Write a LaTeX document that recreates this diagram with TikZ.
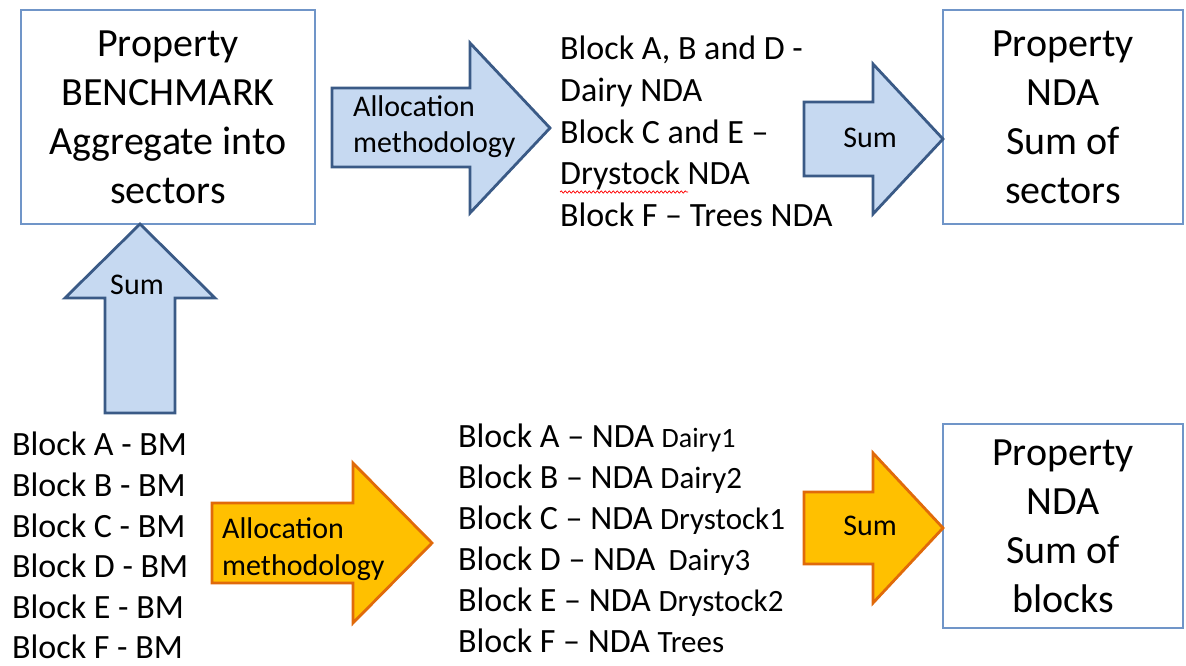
\documentclass[tikz,border=0pt]{standalone}
\usepackage{fontspec}
\setmainfont{Carlito}
\usetikzlibrary{decorations.pathmorphing}
\definecolor{bluefill}{HTML}{C6D9F1}
\definecolor{blueedge}{HTML}{3A5A86}
\definecolor{boxedge}{HTML}{7095C8}
\definecolor{orangefill}{HTML}{FFC000}
\definecolor{orangeedge}{HTML}{E06A0A}
\begin{document}
\begin{tikzpicture}[x=1pt,y=-1pt,
  box/.style={draw=boxedge, line width=1.2pt, inner sep=0pt, align=center,
    font=\fontsize{40}{49}\selectfont},
  bluearrow/.style={fill=bluefill, draw=blueedge, line width=2.8pt, line join=miter},
  orangearrow/.style={fill=orangefill, draw=orangeedge, line width=2.8pt, line join=miter},
  listline/.style={anchor=west, inner sep=0pt, text height=0.64em, text depth=0pt,
    font=\fontsize{34}{41}\selectfont},
  arrowtext/.style={anchor=west, inner sep=0pt, text height=0.64em, text depth=0pt,
    font=\fontsize{30}{36}\selectfont},
  sumtext/.style={inner sep=0pt, text height=0.64em, text depth=0pt,
    font=\fontsize{30}{36}\selectfont}]

\useasboundingbox (0,0) rectangle (1186,666);

% Result boxes
\node[box, minimum width=294pt, minimum height=214pt] (bench) at (168,117)
  {Property\\BENCHMARK\\Aggregate into\\sectors};
\node[box, minimum width=240pt, minimum height=214pt] (sectors) at (1063,117)
  {Property\\NDA\\Sum of\\sectors};
\node[box, minimum width=240pt, minimum height=204pt] (blocks) at (1063,526)
  {Property\\NDA\\Sum of\\blocks};

% Block arrows of the upper flow
\draw[bluearrow] (332,88) -- (470,88) -- (470,43) -- (550,128) -- (470,213)
  -- (470,167) -- (332,167) -- cycle;
\node[arrowtext] (alloc1a) at (353,113) {Allocation};
\node[arrowtext] (alloc1b) at (353,149) {methodology};

\draw[bluearrow] (804,102) -- (873,102) -- (873,64) -- (943,139) -- (873,214)
  -- (873,176) -- (804,176) -- cycle;
\node[sumtext] (sum1) at (870,144) {Sum};

\draw[bluearrow] (140,224) -- (215,298) -- (175,298) -- (175,413) -- (105,413)
  -- (105,298) -- (65,298) -- cycle;
\node[sumtext] (sum2) at (137,291) {Sum};

% Block arrows of the lower flow
\draw[orangearrow] (212,503) -- (353,503) -- (353,463) -- (432,543) -- (353,623)
  -- (353,583) -- (212,583) -- cycle;
\node[arrowtext] (alloc2a) at (222,535) {Allocation};
\node[arrowtext] (alloc2b) at (222,572) {methodology};

\draw[orangearrow] (804,492) -- (873,492) -- (873,453) -- (943,528) -- (873,603)
  -- (873,564) -- (804,564) -- cycle;
\node[sumtext] (sum3) at (870,532) {Sum};

% Sector allocation
\node[listline] (s1) at (560,56) {Block A, B and D -};
\node[listline] (s2) at (560,98) {Dairy NDA};
\node[listline] (s3) at (560,140) {Block C and E –};
\node[listline] (s4) at (560,181) {Drystock NDA};
\node[listline] (s5) at (560,223) {Block F – Trees NDA};
\draw[red, line width=0.7pt, decorate,
  decoration={snake, amplitude=1.1pt, segment length=4pt}] (560,192) -- (688,192);

% Block benchmarks
\node[listline] (b1) at (12,452) {Block A - BM};
\node[listline] (b2) at (12,493) {Block B - BM};
\node[listline] (b3) at (12,534) {Block C - BM};
\node[listline] (b4) at (12,574) {Block D - BM};
\node[listline] (b5) at (12,615) {Block E - BM};
\node[listline] (b6) at (12,655) {Block F - BM};

% Block NDA values
\node[listline] (n1) at (458,444) {Block A – NDA {\fontsize{28}{28}\selectfont Dairy1}};
\node[listline] (n2) at (458,485) {Block B – NDA {\fontsize{31}{31}\selectfont Dairy2}};
\node[listline] (n3) at (458,526) {Block C – NDA {\fontsize{31}{31}\selectfont Drystock1}};
\node[listline] (n4) at (458,567) {Block D – NDA\, {\fontsize{31}{31}\selectfont Dairy3}};
\node[listline] (n5) at (458,608) {Block E – NDA {\fontsize{31}{31}\selectfont Drystock2}};
\node[listline] (n6) at (458,649) {Block F – NDA {\fontsize{31}{31}\selectfont Trees}};
\end{tikzpicture}
\end{document}
